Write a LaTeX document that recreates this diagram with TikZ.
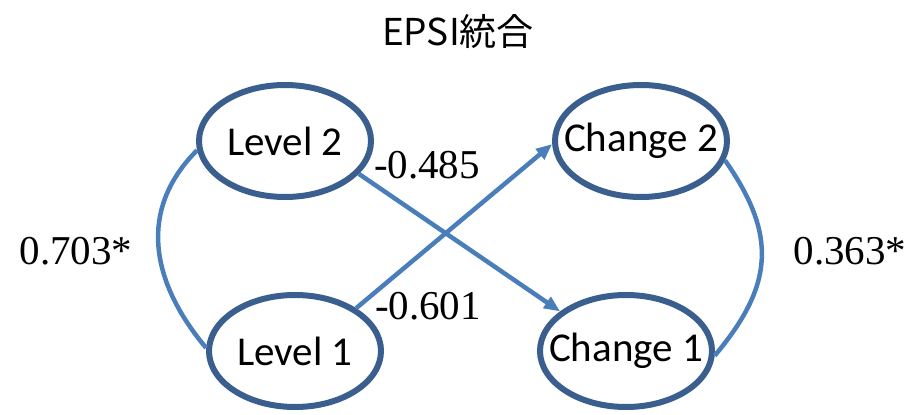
\documentclass[tikz,border=0pt]{standalone}
\usepackage{fontspec}
\setmainfont{Liberation Serif}
\newfontfamily\calib{Carlito}
\newfontfamily\cjk{Noto Sans CJK JP}
\usetikzlibrary{shapes.geometric,arrows.meta}
\definecolor{ringblue}{HTML}{3A5F8E}
\definecolor{lineblue}{HTML}{4A7EBB}
\newcommand{\fixw}[1]{\makebox[100pt]{#1}}
\tikzset{
  latent/.style={ellipse, draw=ringblue, line width=6pt, minimum width=172pt, minimum height=112pt, inner sep=0pt, font=\calib\fontsize{41}{46}\selectfont},
  conn/.style={draw=lineblue, line width=4.5pt},
  path/.style={conn, -{Triangle[length=16pt,width=13pt]}},
  coef/.style={font=\fontsize{41}{46}\selectfont, inner sep=0pt}
}
\begin{document}
\begin{tikzpicture}[x=1pt,y=-1pt]
\useasboundingbox (0,0) rectangle (914,415);
\node[font=\cjk\fontsize{37}{42}\selectfont] (title) at (458,32) {EPSI統合};
\node[latent] (L2) at (285,141) {\fixw{Level 2}};
\node[latent] (C2) at (641,141) {\fixw{Change 2}};
\node[latent] (L1) at (295,351) {\fixw{Level 1}};
\node[latent] (C1) at (626,351) {\fixw{Change 1}};
\draw[conn] (L2.186) to[out=225,in=130,looseness=1.1] (L1.178);
\draw[conn] (C2.-13) to[out=-55,in=50,looseness=1.2] (C1.-3);
\draw[path] (L2.-24) -- (C1.149);
\draw[path] (L1.35) -- (C2.182);
\node[coef] (b1) at (427,165) {-0.485};
\node[coef] (b2) at (428,306) {-0.601};
\node[coef] (r1) at (76,251) {0.703*};
\node[coef] (r2) at (850,251) {0.363*};
\end{tikzpicture}
\end{document}
